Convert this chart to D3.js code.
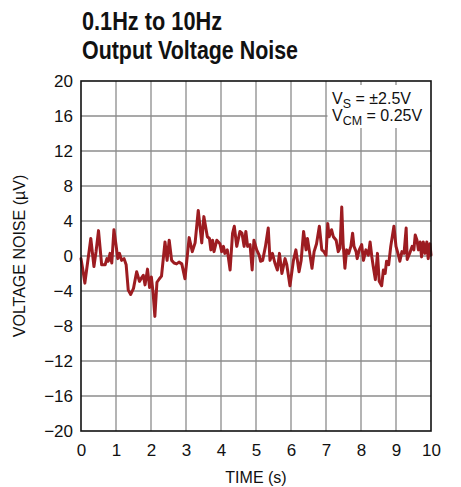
<!DOCTYPE html>
<html>
<head>
<meta charset="utf-8">
<script src="https://cdn.jsdelivr.net/npm/d3@7"></script>
<style>
  html, body { margin: 0; padding: 0; background: #fff; }
  svg { display: block; font-family: 'Liberation Sans', Arial, sans-serif; }
</style>
</head>
<body>
<div class="graph"></div>
<script>
const width = 461;
const height = 487;
const margin = { top: 81, right: 30, bottom: 55, left: 81 };

// time (s) and output voltage noise (µV)
const time = [
  0.00, 0.05, 0.11, 0.18, 0.28, 0.37, 0.43, 0.50, 0.59, 0.69, 0.74, 0.78, 0.83, 0.88, 0.94,
  1.00, 1.05, 1.10, 1.16, 1.23, 1.29, 1.35, 1.42, 1.50, 1.59, 1.67, 1.73, 1.78, 1.83, 1.90,
  1.96, 2.01, 2.06, 2.11, 2.17, 2.24, 2.30, 2.40, 2.46, 2.52, 2.59, 2.66, 2.73, 2.80, 2.88,
  2.97, 3.09, 3.18, 3.26, 3.35, 3.45, 3.51, 3.61, 3.67, 3.71, 3.76, 3.80, 3.88, 3.97, 4.02,
  4.07, 4.11, 4.18, 4.26, 4.33, 4.38, 4.45, 4.54, 4.60, 4.66, 4.71, 4.76, 4.83, 4.89, 4.94,
  5.02, 5.09, 5.13, 5.19, 5.27, 5.35, 5.40, 5.47, 5.54, 5.61, 5.67, 5.74, 5.83, 5.88, 5.97,
  6.07, 6.14, 6.23, 6.29, 6.36, 6.43, 6.47, 6.52, 6.60, 6.66, 6.73, 6.81, 6.88, 6.94, 7.00,
  7.05, 7.09, 7.16, 7.21, 7.29, 7.35, 7.40, 7.45, 7.49, 7.54, 7.59, 7.65, 7.71, 7.76, 7.80,
  7.86, 7.89, 7.95, 8.02, 8.07, 8.14, 8.21, 8.26, 8.31, 8.35, 8.41, 8.47, 8.52, 8.59, 8.64,
  8.69, 8.73, 8.79, 8.85, 8.94, 9.00, 9.07, 9.11, 9.17, 9.23, 9.29, 9.32, 9.40, 9.46, 9.51,
  9.55, 9.60, 9.64, 9.69, 9.73, 9.78, 9.83, 9.88, 9.92, 9.97, 10.00
];
const noise = [
  -0.3, -1.5, -3.1, -1.0, 2.0, -1.2, 0.5, 2.9, -1.0, -1.0, -0.3, -0.6, 0.3, -0.8, 3.0,
  1.3, -0.3, 0.3, -0.5, -0.3, -1.0, -3.9, -4.4, -3.7, -1.8, -2.9, -2.5, -2.2, -3.3, -1.5,
  -3.6, -2.4, -4.2, -6.9, -3.0, -2.6, -2.3, 1.6, -0.5, 1.8, -0.5, -0.8, -0.9, -0.7, -0.9,
  -2.6, 2.1, 0.5, 1.5, 5.2, 1.5, 4.5, 2.2, 2.0, 0.7, 1.8, 0.5, 1.8, 1.4, 0.5,
  1.1, 0.3, 0.7, -1.6, 2.6, 3.4, 1.1, 2.8, 2.6, 1.1, 2.8, 1.1, 1.3, -1.6, 1.8,
  0.7, 0.1, -0.6, -0.5, 1.1, 3.2, -0.5, 0.3, -0.8, -1.6, 0.3, -2.0, -0.3, -1.0, -3.4,
  -0.5, 0.7, -1.8, -0.5, 2.8, 0.7, 2.0, 0.7, -1.4, 0.5, 1.4, 3.4, 0.7, 0.5, 0.1,
  3.7, 2.2, 3.0, 2.2, 1.8, 0.5, 0.9, 5.6, 1.4, -1.4, 0.7, 0.3, 1.1, 2.6, 1.1,
  0.5, -0.3, 0.7, 1.3, -0.5, 0.7, 0.1, 1.6, -0.1, -1.2, -2.7, 0.3, -2.9, -3.4, -1.6,
  -2.0, -0.6, -1.0, 1.1, 3.4, 1.1, 0.1, -0.6, 0.5, 0.3, 3.2, -0.4, 0.4, 1.1, 0.7,
  2.4, 1.8, 0.7, 1.6, -0.1, 1.6, 0.3, 1.6, -0.3, 1.4, 0.1
];

const xTicks = [0, 1, 2, 3, 4, 5, 6, 7, 8, 9, 10];
const yTicks = [-20, -16, -12, -8, -4, 0, 4, 8, 12, 16, 20];
const titleLines = ['0.1Hz to 10Hz', 'Output Voltage Noise'];

const color = {
  trace: '#9d1c21',
  grid: '#8c8c8c',
  frame: '#111',
  text: '#111',
};

const plotW = width - margin.left - margin.right;
const plotH = height - margin.top - margin.bottom - 1;

const x = d3.scaleLinear().domain([0, 10]).range([margin.left, margin.left + plotW]);
const y = d3.scaleLinear().domain([-20, 20]).range([margin.top + plotH, margin.top]);

const svg = d3.select('.graph')
  .append('svg')
    .attr('width', width)
    .attr('height', height)
    .attr('viewBox', [0, 0, width, height]);

// title
const titleWidths = [140, 216];
svg.append('g')
  .selectAll('text')
  .data(titleLines)
  .enter().append('text')
    .attr('x', 82)
    .attr('y', (d, i) => 30 + i * 28.5)
    .attr('font-family', "'Liberation Sans Narrow', 'Liberation Sans', Arial, sans-serif")
    .attr('font-weight', 'bold')
    .attr('font-size', 26)
    .attr('fill', color.text)
    .attr('textLength', (d, i) => titleWidths[i])
    .attr('lengthAdjust', 'spacingAndGlyphs')
    .text(d => d);

// grid
const grid = svg.append('g')
  .attr('stroke', color.grid)
  .attr('stroke-width', 1.3);

grid.selectAll('.vgrid')
  .data(xTicks.slice(1, -1))
  .enter().append('line')
    .attr('class', 'vgrid')
    .attr('x1', d => x(d)).attr('x2', d => x(d))
    .attr('y1', y(20)).attr('y2', y(-20));

grid.selectAll('.hgrid')
  .data(yTicks.slice(1, -1))
  .enter().append('line')
    .attr('class', 'hgrid')
    .attr('x1', x(0)).attr('x2', x(10))
    .attr('y1', d => y(d)).attr('y2', d => y(d));

// legend box hides the grid, keep small ticks on the frame
const legendBox = { x0: 327.5, y1: 128 };
svg.append('rect')
  .attr('x', legendBox.x0)
  .attr('y', y(20))
  .attr('width', x(10) - legendBox.x0)
  .attr('height', legendBox.y1 - y(20))
  .attr('fill', '#fff');

svg.append('g')
  .attr('stroke', color.grid)
  .attr('stroke-width', 1.3)
  .selectAll('line')
  .data(xTicks.filter(d => x(d) > legendBox.x0 && d < 10))
  .enter().append('line')
    .attr('x1', d => x(d)).attr('x2', d => x(d))
    .attr('y1', y(20)).attr('y2', y(20) + 4);

// trace
const line = d3.line()
  .x((d, i) => x(time[i]))
  .y(d => y(d));

svg.append('path')
  .datum(noise)
  .attr('d', line)
  .attr('fill', 'none')
  .attr('stroke', color.trace)
  .attr('stroke-width', 3)
  .attr('stroke-linejoin', 'round')
  .attr('stroke-linecap', 'round');

// frame
svg.append('rect')
  .attr('x', x(0))
  .attr('y', y(20))
  .attr('width', x(10) - x(0))
  .attr('height', y(-20) - y(20))
  .attr('fill', 'none')
  .attr('stroke', color.frame)
  .attr('stroke-width', 1.6);

// legend text
const legend = svg.append('g')
  .attr('font-size', 16)
  .attr('fill', color.text);

const vs = legend.append('text').attr('x', 332).attr('y', 104);
vs.append('tspan').text('V');
vs.append('tspan').attr('dy', 4).attr('font-size', 12.5).text('S');
vs.append('tspan').attr('dy', -4).text(' = ±2.5V');

const vcm = legend.append('text').attr('x', 332).attr('y', 121);
vcm.append('tspan').text('V');
vcm.append('tspan').attr('dy', 4).attr('font-size', 12.5).text('CM');
vcm.append('tspan').attr('dy', -4).text(' = 0.25V');

// axes labels
const xAxis = d3.axisBottom(x)
  .tickValues(xTicks)
  .tickSize(0)
  .tickPadding(13)
  .tickFormat(d3.format('d'));

const yAxis = d3.axisLeft(y)
  .tickValues(yTicks)
  .tickSize(0)
  .tickPadding(8)
  .tickFormat(d => d < 0 ? '\u2212' + Math.abs(d) : d);

svg.append('g')
  .attr('transform', `translate(0, ${y(-20)})`)
  .call(xAxis)
  .call(g => g.select('.domain').remove())
  .selectAll('text')
    .attr('font-family', "'Liberation Sans', Arial, sans-serif")
    .attr('font-size', 17)
    .attr('fill', color.text);

svg.append('g')
  .attr('transform', `translate(${x(0)}, 0)`)
  .call(yAxis)
  .call(g => g.select('.domain').remove())
  .selectAll('text')
    .attr('font-family', "'Liberation Sans', Arial, sans-serif")
    .attr('font-size', 17)
    .attr('fill', color.text);

svg.append('text')
  .attr('x', (x(0) + x(10)) / 2)
  .attr('y', 483)
  .attr('text-anchor', 'middle')
  .attr('font-size', 16)
  .attr('fill', color.text)
  .text('TIME (s)');

svg.append('text')
  .attr('transform', `translate(25, ${(y(20) + y(-20)) / 2}) rotate(-90)`)
  .attr('text-anchor', 'middle')
  .attr('font-size', 16)
  .attr('fill', color.text)
  .text('VOLTAGE NOISE (\u00b5V)');
</script>
</body>
</html>
